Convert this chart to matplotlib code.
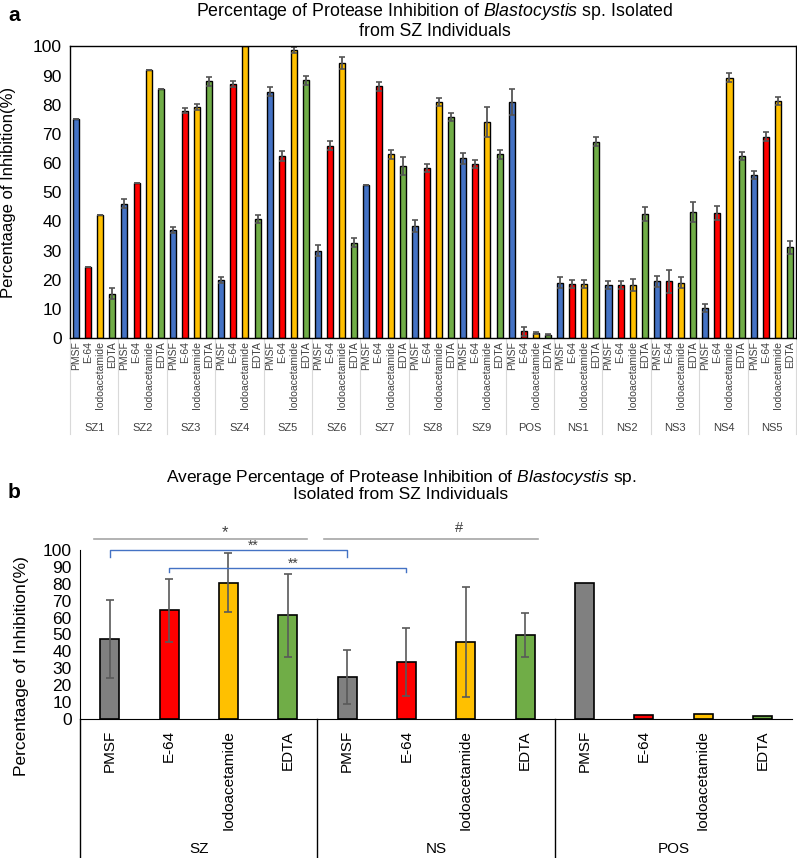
"""Protease inhibition of Blastocystis sp. - panels a and b"""
import numpy as np
import matplotlib
matplotlib.use('Agg')
import matplotlib.pyplot as plt
from matplotlib.transforms import blended_transform_factory

plt.rcParams['font.family'] = ['Liberation Sans', 'DejaVu Sans']
plt.rcParams['mathtext.fontset'] = 'custom'
plt.rcParams['mathtext.rm'] = 'Liberation Sans'
plt.rcParams['mathtext.it'] = 'Liberation Sans:italic'

# ---- data, panel a ----
inhibitors = ['PMSF', 'E-64', 'Iodoacetamide', 'EDTA']
groups_a = ['SZ1', 'SZ2', 'SZ3', 'SZ4', 'SZ5', 'SZ6', 'SZ7', 'SZ8', 'SZ9',
            'POS', 'NS1', 'NS2', 'NS3', 'NS4', 'NS5']
pmsf_a = [75, 46, 37, 20, 84.4, 30, 52.4, 38.4, 61.6, 81, 19, 18.2, 19.4, 10.3, 55.9]
e64_a = [24.5, 53, 78, 87, 62.4, 66, 86.3, 58.2, 59.6, 2.3, 18.5, 18.2, 19.4, 42.8, 69]
iodo_a = [42.2, 91.8, 79.2, 100, 98.6, 94.2, 63, 81, 74.1, 1.7, 18.5, 18.2, 19, 89.2, 81.2]
edta_a = [15.2, 85.5, 88, 40.8, 88.4, 32.7, 59, 75.8, 63, 1.1, 67.3, 42.4, 43.3, 62.4, 31.1]
pmsf_err = [0, 1.5, 1, 1, 1.5, 2, 0, 2, 2, 4.4, 2, 1.5, 2, 1.5, 1.5]
e64_err = [0, 0, 1, 1, 1.8, 1.5, 1.5, 1.3, 1.3, 1.5, 1.3, 1.5, 3.8, 2.5, 1.5]
iodo_err = [0, 0, 1, 0, 1, 2, 1.5, 1.3, 5.1, 0.3, 1.5, 2, 2, 1.5, 1.3]
edta_err = [1.8, 0, 1.5, 1.5, 1.5, 1.5, 3.2, 1.5, 1.5, 0.2, 1.5, 2.4, 3.4, 1.5, 2.3]

# ---- data, panel b ----
groups_b = ['SZ', 'NS', 'POS']
mean_b_pmsf = [47.3, 25, 80.7]
mean_b_e64 = [64.3, 33.9, 2.3]
mean_b_iodo = [80.7, 45.7, 2.8]
mean_b_edta = [61.3, 49.7, 1.5]
err_b_pmsf = [23, 16, 0]
err_b_e64 = [18.5, 20, 0]
err_b_iodo = [17.5, 32.6, 0]
err_b_edta = [24.7, 13, 0]

colors_a = ['#4472C4', '#FF0000', '#FFC000', '#70AD47']
colors_b = ['#808080', '#FF0000', '#FFC000', '#70AD47']

fig = plt.figure(figsize=(7.97, 8.58), dpi=100)

# ================= panel a =================
ax1 = fig.add_axes([0.0878, 0.606, 0.911, 0.340])
vals_a = np.column_stack([pmsf_a, e64_a, iodo_a, edta_a]).ravel()
errs_a = np.column_stack([pmsf_err, e64_err, iodo_err, edta_err]).ravel()
x_a = np.arange(len(vals_a))
ax1.bar(x_a, vals_a, width=0.5, color=colors_a * len(groups_a),
        edgecolor='black', linewidth=1.0)
ax1.errorbar(x_a, vals_a, yerr=errs_a, fmt='none', ecolor='#555555',
             elinewidth=1.3, capsize=2.5, capthick=1.2)
ax1.set_xlim(-0.5, len(vals_a) - 0.5)
ax1.set_ylim(0, 100)
ax1.set_yticks(np.arange(0, 101, 10))
ax1.tick_params(axis='y', labelsize=12.5, length=0, pad=6)
ax1.set_xticks(x_a)
ax1.set_xticklabels(inhibitors * len(groups_a), rotation=90, fontsize=7.5,
                    color='#404040')
ax1.tick_params(axis='x', length=0, pad=2)
for sp in ax1.spines.values():
    sp.set_linewidth(1.0)

trans1 = blended_transform_factory(ax1.transData, ax1.transAxes)
for k in range(len(groups_a) + 1):
    xb = 4 * k - 0.5
    ax1.plot([xb, xb], [0, -0.33], transform=trans1, color='#d9d9d9',
             lw=0.8, clip_on=False)
for g, name in enumerate(groups_a):
    ax1.text(4 * g + 1.5, -0.31, name, transform=trans1, ha='center',
             va='center', fontsize=8, color='#404040')

fig.text(0.011, 0.776, 'Percentaage of Inhibition(%)', rotation=90,
         ha='center', va='center', fontsize=12)
fig.text(0.546, 0.999, 'Percentage of Protease Inhibition of '
         r'$\it{Blastocystis}$' ' sp. Isolated\nfrom SZ Individuals',
         ha='center', va='top', fontsize=12.8, linespacing=1.05)
fig.text(0.018, 0.982, 'a', fontsize=15, fontweight='bold', ha='center',
         va='center')

# ================= panel b =================
ax2 = fig.add_axes([0.1004, 0.162, 0.8934, 0.197])
vals_b = np.column_stack([mean_b_pmsf, mean_b_e64, mean_b_iodo, mean_b_edta]).ravel()
errs_b = np.column_stack([err_b_pmsf, err_b_e64, err_b_iodo, err_b_edta]).ravel()
x_b = np.arange(len(vals_b))
ax2.bar(x_b, vals_b, width=0.32, color=colors_b * len(groups_b),
        edgecolor='black', linewidth=1.2)
has_err = errs_b > 0
ax2.errorbar(x_b[has_err], vals_b[has_err], yerr=errs_b[has_err], fmt='none',
             ecolor='#595959', elinewidth=1.2, capsize=3, capthick=1.2)
ax2.set_xlim(-0.5, len(vals_b) - 0.5)
ax2.set_ylim(0, 100)
ax2.set_yticks(np.arange(0, 101, 10))
ax2.tick_params(axis='y', labelsize=12.5, length=0, pad=6)
ax2.set_xticks(x_b)
ax2.set_xticklabels(inhibitors * len(groups_b), rotation=90, fontsize=11)
ax2.tick_params(axis='x', length=0, pad=8)
ax2.spines['top'].set_visible(False)
ax2.spines['right'].set_visible(False)

trans2 = blended_transform_factory(ax2.transData, ax2.transAxes)
for k in range(len(groups_b)):
    xb = 4 * k - 0.5
    ax2.plot([xb, xb], [0, -0.83], transform=trans2, color='black',
             lw=1.0, clip_on=False)
for g, name in enumerate(groups_b):
    ax2.text(4 * g + 1.5, -0.77, name, transform=trans2, ha='center',
             va='center', fontsize=11)

# significance marks
ax2.plot([-0.26, 3.33], [106.5, 106.5], color='#a6a6a6', lw=1.2, clip_on=False)
ax2.text(1.95, 110, '*', ha='center', va='center', fontsize=12, color='#404040')
ax2.plot([3.61, 7.22], [106.5, 106.5], color='#a6a6a6', lw=1.2, clip_on=False)
ax2.text(5.88, 113, '#', ha='center', va='center', fontsize=10.5, color='#404040')
ax2.plot([0, 0, 4, 4], [96, 100, 100, 96], color='#4472C4', lw=1.0,
         clip_on=False)
ax2.text(2.42, 102.5, '**', ha='center', va='center', fontsize=10, color='#404040')
ax2.plot([1, 1, 5, 5], [87, 89.3, 89.3, 87], color='#4472C4', lw=1.0,
         clip_on=False)
ax2.text(3.09, 92, '**', ha='center', va='center', fontsize=10, color='#404040')

fig.text(0.027, 0.224, 'Percentaage of Inhibition(%)', rotation=90,
         ha='center', va='center', fontsize=12.5)
fig.text(0.503, 0.455, 'Average Percentage of Protease Inhibition of '
         r'$\it{Blastocystis}$' ' sp.\nIsolated from SZ Individuals',
         ha='center', va='top', fontsize=12.5, linespacing=1.05)
fig.text(0.018, 0.426, 'b', fontsize=15, fontweight='bold', ha='center',
         va='center')

fig.savefig('out.png', dpi=100)
